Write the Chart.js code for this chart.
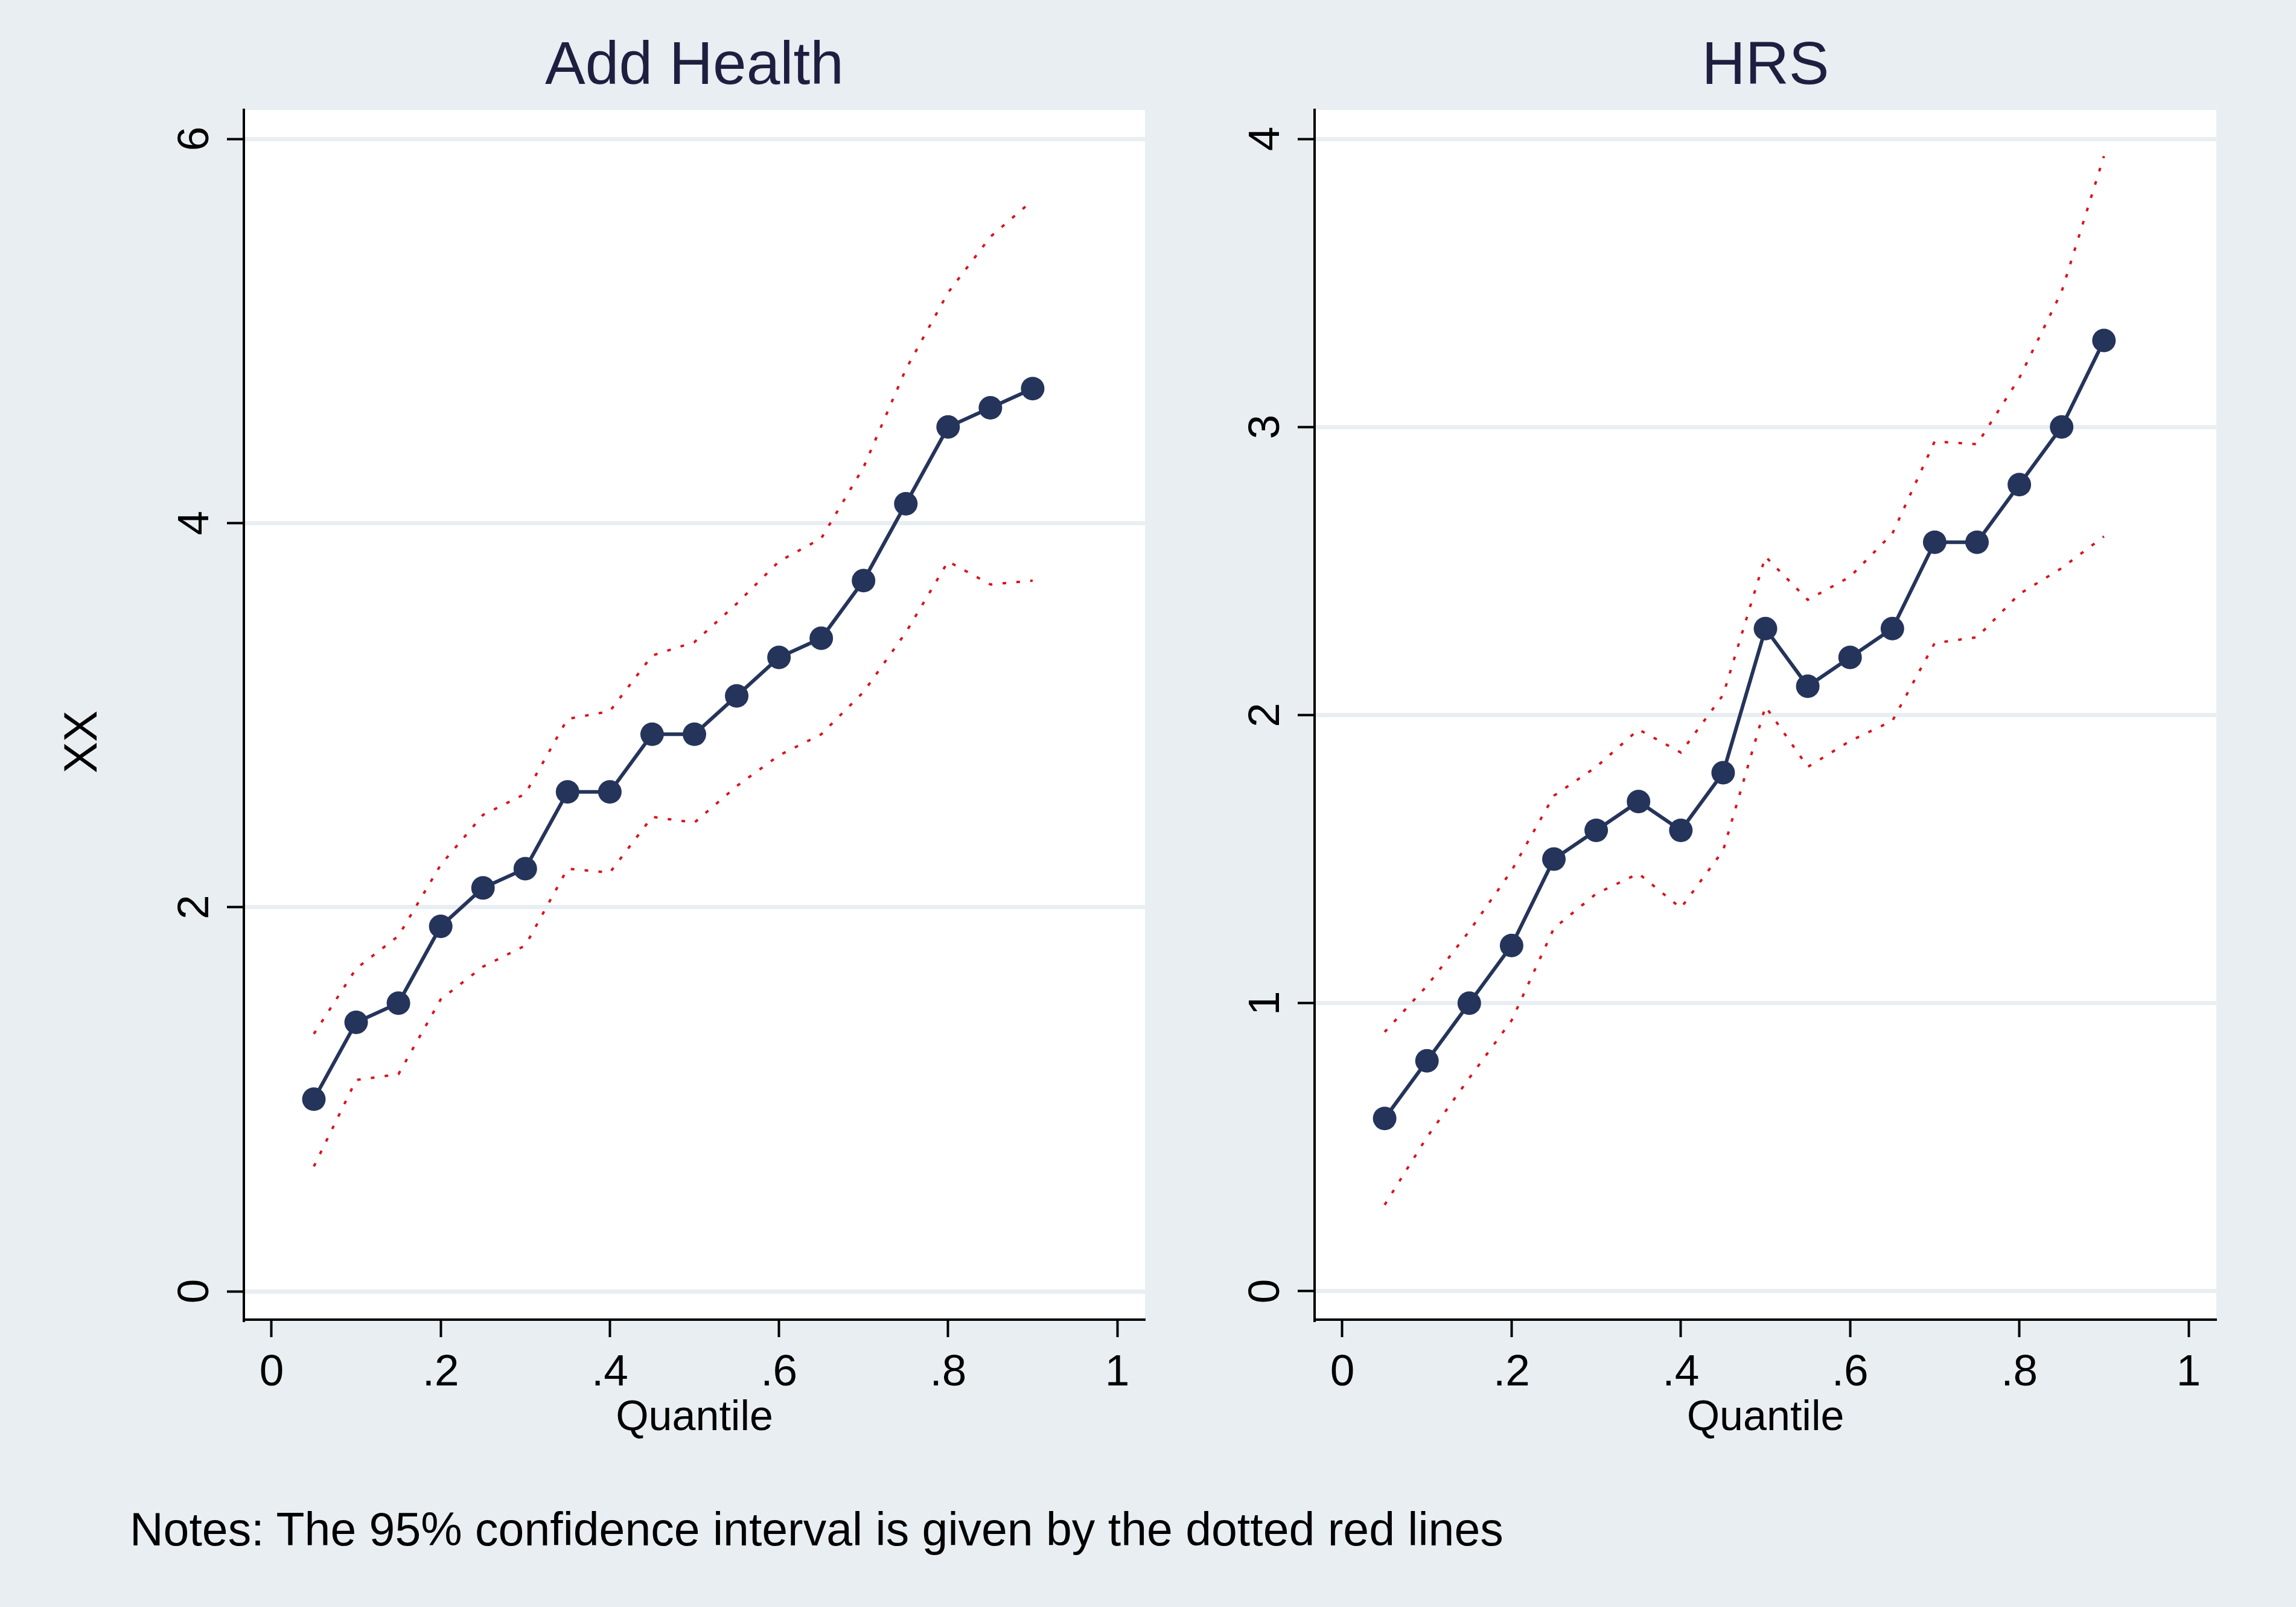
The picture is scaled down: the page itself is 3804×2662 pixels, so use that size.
<!DOCTYPE html>
<html><head><meta charset="utf-8">
<script src="https://cdn.jsdelivr.net/npm/chart.js@4.4.1/dist/chart.umd.min.js"></script>
<style>
html,body{margin:0;padding:0;background:#e8eef1;width:3804px;height:2662px;overflow:hidden;font-family:"Liberation Sans",Arial,sans-serif;}
canvas{position:absolute;top:0;}
#c1{left:0;width:1950px;height:2440px;}
#c2{left:1950px;width:1854px;height:2440px;}
#note{position:absolute;left:215px;top:2495px;font-size:77px;line-height:77px;color:#000;white-space:nowrap;}
</style></head><body>
<canvas id="c1" width="1950" height="2440"></canvas>
<canvas id="c2" width="1854" height="2440"></canvas>
<div id="note">Notes: The 95% confidence interval is given by the dotted red lines</div>
<script>
// ---- data ----
const quantiles = [0.05,0.10,0.15,0.20,0.25,0.30,0.35,0.40,0.45,0.50,0.55,0.60,0.65,0.70,0.75,0.80,0.85,0.90];
const addHealthEst   = [1.0,1.4,1.5,1.9,2.1,2.2,2.6,2.6,2.9,2.9,3.1,3.3,3.4,3.7,4.1,4.5,4.6,4.7];
const addHealthUpper = [1.34,1.68,1.85,2.22,2.48,2.59,2.98,3.02,3.31,3.38,3.58,3.80,3.92,4.29,4.80,5.20,5.49,5.68];
const addHealthLower = [0.65,1.10,1.13,1.52,1.69,1.80,2.20,2.18,2.47,2.44,2.63,2.79,2.90,3.12,3.43,3.80,3.68,3.70];
const hrsEst   = [0.6,0.8,1.0,1.2,1.5,1.6,1.7,1.6,1.8,2.3,2.1,2.2,2.3,2.6,2.6,2.8,3.0,3.3];
const hrsUpper = [0.90,1.06,1.25,1.46,1.72,1.82,1.95,1.87,2.07,2.55,2.40,2.48,2.63,2.95,2.94,3.17,3.47,3.94];
const hrsLower = [0.30,0.535,0.74,0.94,1.26,1.38,1.45,1.33,1.53,2.03,1.82,1.91,1.98,2.25,2.27,2.42,2.51,2.62];
const xTicks = [0,0.2,0.4,0.6,0.8,1];
const xTickLabels = ['0','.2','.4','.6','.8','1'];
const addHealthYTicks = [0,2,4,6];
const hrsYTicks = [0,1,2,3,4];

// ---- style ----
const FONT = '"Liberation Sans", Arial, sans-serif';
Chart.defaults.font.family = FONT;
const BG = '#e8eef1';
const NAVY = '#25345a';
const RED = '#d8141c';

const pts = (ys) => quantiles.map((q, i) => ({x: q, y: ys[i]}));

const plotBg = {
  id: 'plotBg',
  beforeDraw(chart) {
    const {ctx, chartArea: a} = chart;
    ctx.save();
    ctx.fillStyle = BG;
    ctx.fillRect(0, 0, chart.width, chart.height);
    ctx.fillStyle = '#ffffff';
    ctx.fillRect(a.left, a.top, a.right - a.left, a.bottom - a.top);
    ctx.restore();
  },
  afterDraw(chart, args, opts) {
    const {ctx, chartArea: a} = chart;
    const s = chart.scales.y;
    ctx.save();
    ctx.fillStyle = '#000';
    ctx.font = '73px ' + FONT;
    ctx.textAlign = 'center';
    ctx.textBaseline = 'alphabetic';
    s.ticks.forEach(t => {
      const y = s.getPixelForValue(t.value);
      ctx.save();
      ctx.translate(a.left - 59, y);
      ctx.rotate(-Math.PI / 2);
      ctx.fillText(String(t.value), 0, 0);
      ctx.restore();
    });
    if (opts.yTitle) {
      ctx.font = '78px ' + FONT;
      ctx.save();
      ctx.translate(160, 1229);
      ctx.rotate(-Math.PI / 2);
      ctx.fillText(opts.yTitle, 0, 0);
      ctx.restore();
    }
    ctx.restore();
  }
};

function makeChart(id, title, est, up, lo, yTicks, yMin, yMax, yWidth, padRight, yTitle) {
  return new Chart(document.getElementById(id), {
    type: 'line',
    data: {
      datasets: [
        {data: pts(est), borderColor: NAVY, backgroundColor: NAVY, borderWidth: 6,
         pointRadius: 19.5, pointHoverRadius: 19.5, pointBackgroundColor: NAVY, pointBorderWidth: 0, tension: 0},
        {data: pts(up), borderColor: RED, borderWidth: 4, borderDash: [6, 17], borderCapStyle: 'butt',
         pointRadius: 0, tension: 0},
        {data: pts(lo), borderColor: RED, borderWidth: 4, borderDash: [6, 17], borderCapStyle: 'butt',
         pointRadius: 0, tension: 0}
      ]
    },
    options: {
      responsive: false, animation: false, devicePixelRatio: 1,
      layout: {padding: {left: 0, right: padRight, top: 0, bottom: 0}},
      plugins: {
        legend: {display: false}, tooltip: {enabled: false},
        title: {display: true, text: title, fullSize: false, color: '#1e1f40',
                font: {size: 100, lineHeight: 1, weight: 'normal'}, padding: {top: 61, bottom: 21}},
        plotBg: {yTitle: yTitle}
      },
      scales: {
        x: {
          type: 'linear', min: -0.0328, max: 1.0328,
          afterBuildTicks: (s) => { s.ticks = xTicks.map(v => ({value: v})); },
          afterFit: (s) => { s.height = 254; },
          ticks: {callback: (v) => xTickLabels[xTicks.indexOf(v)], color: '#000', padding: 23,
                  font: {size: 73, lineHeight: 1}, maxRotation: 0, autoSkip: false},
          grid: {display: true, drawOnChartArea: false, drawTicks: true, tickLength: 29,
                 tickColor: '#000', tickWidth: 4},
          border: {display: true, color: '#000', width: 4},
          title: {display: true, text: 'Quantile', color: '#000', font: {size: 70, lineHeight: 1},
                  padding: {top: 0, bottom: 55}}
        },
        y: {
          type: 'linear', min: yMin, max: yMax,
          afterBuildTicks: (s) => { s.ticks = yTicks.map(v => ({value: v})); },
          afterFit: (s) => { s.width = yWidth; },
          ticks: {display: false},
          grid: {display: true, drawOnChartArea: true, drawTicks: true, tickLength: 28,
                 color: BG, lineWidth: 7, tickColor: '#000', tickWidth: 4},
          border: {display: true, color: '#000', width: 4}
        }
      }
    },
    plugins: [plotBg]
  });
}

makeChart('c1', 'Add Health', addHealthEst, addHealthUpper, addHealthLower, addHealthYTicks,
          -0.1477, 6.151, 404, 53, 'XX');
makeChart('c2', 'HRS', hrsEst, hrsUpper, hrsLower, hrsYTicks,
          -0.0985, 4.1006, 228, 132, null);
</script>
</body></html>
